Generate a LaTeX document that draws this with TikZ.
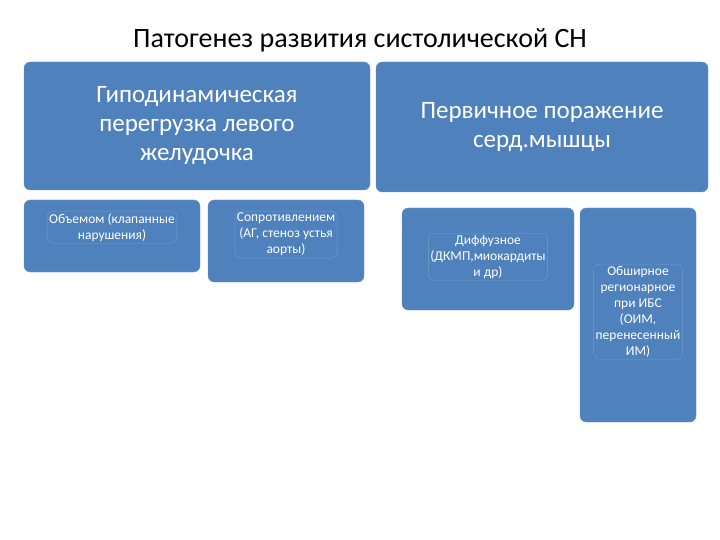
\documentclass[tikz,border=0pt]{standalone}
\usepackage{fontspec}
\setmainfont{Carlito}
\begin{document}
\begin{tikzpicture}[x=1pt,y=-1pt]
\useasboundingbox (0,0) rectangle (720,540);
\definecolor{boxblue}{HTML}{4F81BD}
\tikzset{
  bbox/.style={fill=boxblue, draw=boxblue!80!white, rounded corners=6pt, text=white, align=center, inner sep=2pt, anchor=center},
  big/.style={bbox, font=\fontsize{25}{29}\selectfont},
  small/.style={bbox, font=\fontsize{13.5}{16}\selectfont}
}
\node[font=\fontsize{28}{32}\selectfont] (title) at (360,40) {Патогенез развития систолической СН};
\node[big, minimum width=346pt, minimum height=128pt] (b1) at (197,126) {Гиподинамическая\\перегрузка левого\\желудочка};
\node[big, minimum width=332pt, minimum height=130pt] (b2) at (542,127) {\raisebox{0pt}{}Первичное поражение\\серд.мышцы};
\node[small, minimum width=176pt, minimum height=72pt] (s1) at (112,236) {};
\node[small, anchor=north] at (112,211) {Объемом (клапанные\\нарушения)};
\node[small, minimum width=156pt, minimum height=82pt] (s2) at (286,241) {};
\node[small, anchor=north] at (286,211) {Сопротивлением\\(АГ, стеноз устья\\аорты)};
\node[small, minimum width=172pt, minimum height=102pt] (s3) at (488,259) {};
\node[small, anchor=north] at (488,233) {Диффузное\\(ДКМП,миокардиты\\и др)};
\node[small, minimum width=116pt, minimum height=214pt] (s4) at (638,315) {};
\node[small, anchor=north] at (638,264) {Обширное\\регионарное\\при ИБС\\(ОИМ,\\перенесенный\\ИМ)};
\end{tikzpicture}
\end{document}
